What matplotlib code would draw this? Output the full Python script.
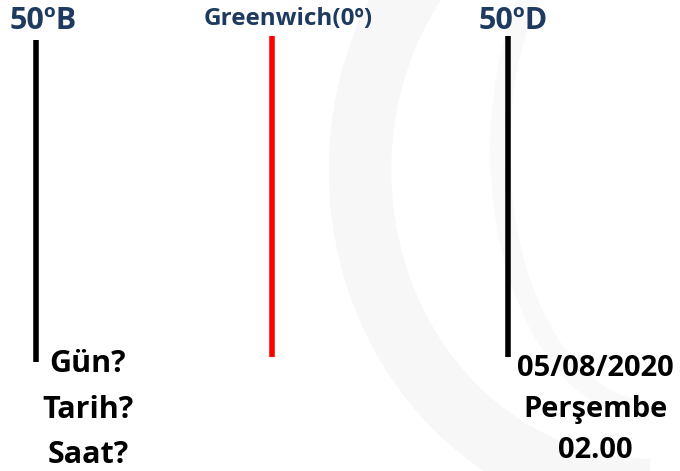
import matplotlib.pyplot as plt
from matplotlib.patches import Arc

# meridians drawn on the sketch
meridian_labels = ["50ºB", "Greenwich(0º)", "50ºD"]
longitudes = [-50, 0, 50]
line_colors = ["black", "#ff0000", "black"]

left_text = ["Gün?", "Tarih?", "Saat?"]
right_text = ["05/08/2020", "Perşembe", "02.00"]

navy = "#1f3a5f"
plt.rcParams["font.family"] = ["Open Sans", "DejaVu Sans"]

fig = plt.figure(figsize=(6.8, 4.71), dpi=100)
ax = fig.add_axes([0, 0, 1, 1])
px = 4.72  # pixels per degree
x0 = -50 - 36 / px
ax.set_xlim(x0, x0 + 680 / px)
ax.set_ylim(471, 0)
ax.axis("off")

# very faint logo watermark in the background
ax.add_patch(Arc((x0 + 650 / px, 170), 580 / px, 640, theta1=90, theta2=270,
                 color="#f7f7f7", lw=45, zorder=0))
ax.add_patch(Arc((x0 + 650 / px, 150), 300 / px, 520, theta1=90, theta2=270,
                 color="#f9f9f9", lw=14, zorder=0))

tops = [40, 36, 36]
bottoms = [362, 357, 357]
for lon, c, t, b in zip(longitudes, line_colors, tops, bottoms):
    ax.plot([lon, lon], [t, b], color=c, lw=4, solid_capstyle="butt", zorder=2)

ax.text(longitudes[0] + 1.5, 21, meridian_labels[0], ha="center", va="center",
        fontsize=22, fontweight="bold", color=navy)
ax.text(longitudes[1] + 3.5, 19, meridian_labels[1], ha="center", va="center",
        fontsize=17.5, fontweight="bold", color=navy)
ax.text(longitudes[2] + 1, 21, meridian_labels[2], ha="center", va="center",
        fontsize=22, fontweight="bold", color=navy)

left_y = [364, 410, 455]
right_y = [368, 410, 450]
for s, y in zip(left_text, left_y):
    ax.text(longitudes[0] + 11, y, s, ha="center", va="center",
            fontsize=22, fontweight="bold", color="black")
for s, y in zip(right_text, right_y):
    ax.text(longitudes[2] + 18.5, y, s, ha="center", va="center",
            fontsize=21, fontweight="bold", color="black")

fig.savefig("out.png", dpi=100)
